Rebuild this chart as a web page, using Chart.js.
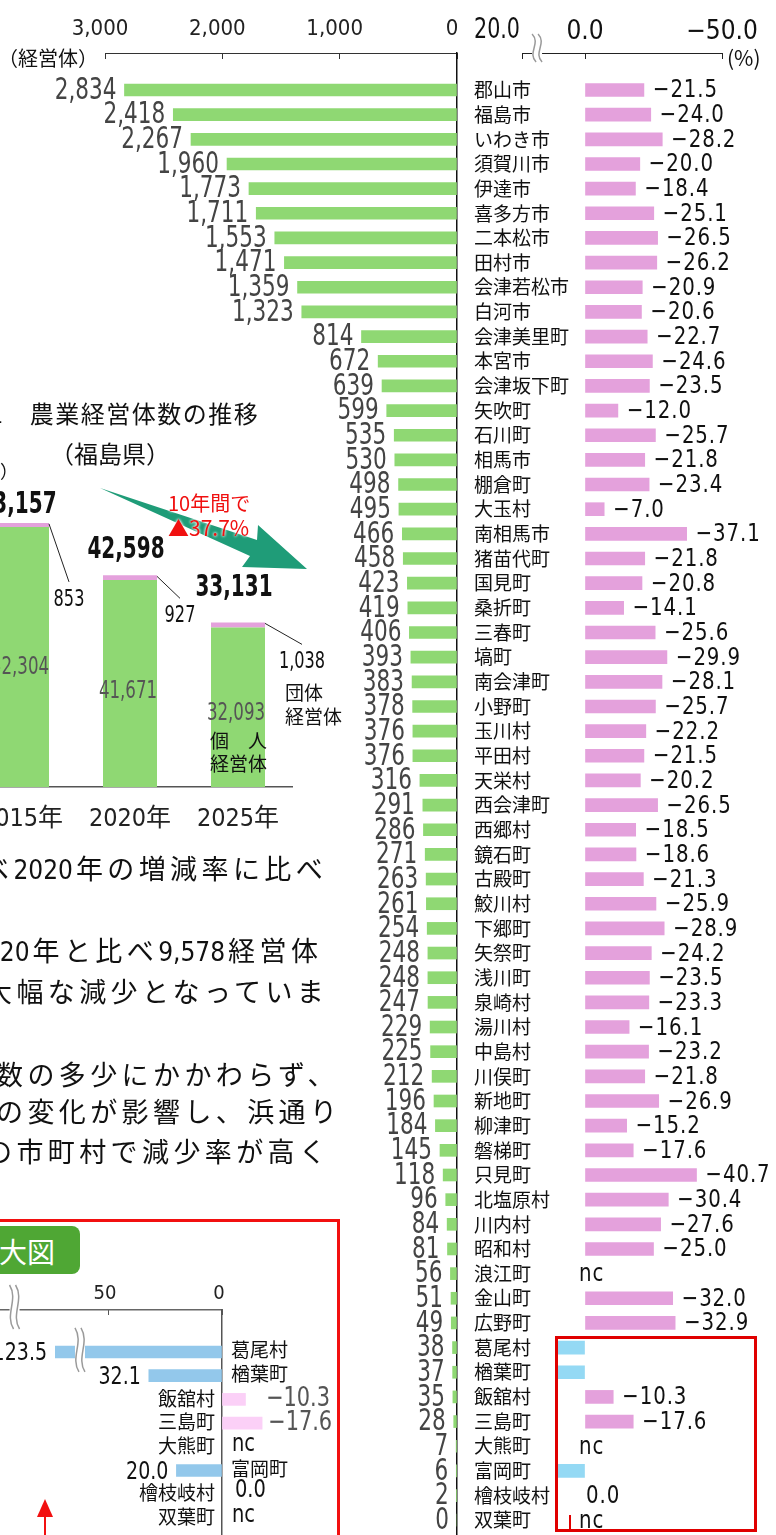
<!DOCTYPE html>
<html>
<head>
<meta charset="utf-8">
<script src="https://cdn.jsdelivr.net/npm/chart.js@4/dist/chart.umd.min.js"></script>
<style>
html, body { margin: 0; padding: 0; background: #fff; }
body { width: 776px; height: 1535px; position: relative; overflow: hidden; font-family: 'Noto Sans CJK JP', sans-serif; color: #111; }
canvas { position: absolute; z-index: 0; }
.ov { position: absolute; z-index: 2; }
.t { position: absolute; z-index: 2; white-space: nowrap; line-height: 1; transform: translateY(-50%); }
#body { position: absolute; z-index: 2; left: 0; top: 840px; width: 340px; height: 340px; overflow: hidden; }
#body .t { font-size: 27px; letter-spacing: 4.4px; }
#body .n { font-family: 'DejaVu Sans Condensed', 'DejaVu Sans', sans-serif; letter-spacing: 0; font-size: 26px; margin-right: 3px; }
</style>
</head>
<body>

<canvas id="cA" width="776" height="1535" style="left:0;top:0"></canvas>
<canvas id="cB" width="776" height="1535" style="left:0;top:0"></canvas>
<canvas id="cC" width="420" height="420" style="left:-60px;top:440px"></canvas>
<canvas id="cD" width="440" height="316" style="left:-100px;top:1219px"></canvas>

<div class="t" style="left:-2px;top:58px;font-size:20px;">（経営体）</div>
<div class="t" style="left:727px;top:57px;font-size:21px;">(%)</div>

<!-- inset: 図1 -->
<div class="t" style="left:-36px;top:413px;font-size:24px;letter-spacing:1.5px;">図1　農業経営体数の推移</div>
<div class="t" style="left:50px;top:453px;font-size:24px;">（福島県）</div>
<div class="t" style="left:-72px;top:470px;font-size:18px;">（経営体）</div>
<svg class="ov" style="left:0;top:0" width="340" height="600">
  <polygon points="100,488 257,540 258,525 307,569 242,567 250,556" fill="#1f9c78"/>
</svg>
<div class="t" style="left:168px;top:503px;font-size:20px;color:#f01010;text-shadow:0 0 3px #fff,0 0 3px #fff;">10年間で</div>
<div class="t" style="left:168px;top:527px;font-size:21px;color:#f01010;text-shadow:0 0 3px #fff,0 0 3px #fff;">▲37.7%</div>
<div class="t" style="left:285px;top:691px;font-size:19px;">団体</div>
<div class="t" style="left:285px;top:715px;font-size:19px;">経営体</div>
<div class="t" style="left:210px;top:739px;font-size:19px;">個　人</div>
<div class="t" style="left:210px;top:762px;font-size:19px;">経営体</div>

<div id="body">
  <div class="t" style="left:-18px;top:28px;">べ<span class="n">2020</span>年の増減率に比べ</div>
  <div class="t" style="left:-30px;top:110px;"><span class="n">2020</span>年と比べ<span class="n">9,578</span>経営体</div>
  <div class="t" style="left:-15px;top:150px;">大幅な減少となっていま</div>
  <div class="t" style="left:-4px;top:233px;">数の多少にかかわらず、</div>
  <div class="t" style="left:-4px;top:270px;">の変化が影響し、浜通り</div>
  <div class="t" style="left:-15px;top:310px;">の市町村で減少率が高く</div>
</div>

<!-- enlarged figure frame -->
<div class="ov" style="left:-10px;top:1219px;width:350px;height:400px;border:3px solid #f21010;box-sizing:border-box;"></div>
<div class="ov" style="left:-40px;top:1226px;width:120px;height:48px;background:#4fa734;border-radius:8px;"></div>
<div class="t" style="left:-29px;top:1251px;font-size:28px;color:#fff;">拡大図</div>
<svg class="ov" style="left:30px;top:1495px" width="30" height="40">
  <polygon points="15,4 7,22 23,22" fill="#f21010"/>
  <rect x="14" y="20" width="2" height="20" fill="#f21010"/>
</svg>

<!-- red box on main chart -->
<div class="ov" style="left:555px;top:1336px;width:202px;height:196px;border:3px solid #e00000;box-sizing:border-box;"></div>
<div class="ov" style="left:569px;top:1515px;width:2px;height:17px;background:#e00000;"></div>

<script>
// 市町村別 農業経営体数（2025年）と増減率（2020年比、%）
const cities = ['郡山市', '福島市', 'いわき市', '須賀川市', '伊達市', '喜多方市', '二本松市', '田村市', '会津若松市', '白河市',
  '会津美里町', '本宮市', '会津坂下町', '矢吹町', '石川町', '相馬市', '棚倉町', '大玉村', '南相馬市', '猪苗代町',
  '国見町', '桑折町', '三春町', '塙町', '南会津町', '小野町', '玉川村', '平田村', '天栄村', '西会津町',
  '西郷村', '鏡石町', '古殿町', '鮫川村', '下郷町', '矢祭町', '浅川町', '泉崎村', '湯川村', '中島村',
  '川俣町', '新地町', '柳津町', '磐梯町', '只見町', '北塩原村', '川内村', '昭和村', '浪江町', '金山町',
  '広野町', '葛尾村', '楢葉町', '飯舘村', '三島町', '大熊町', '富岡町', '檜枝岐村', '双葉町'];
const farms = [2834, 2418, 2267, 1960, 1773, 1711, 1553, 1471, 1359, 1323,
  814, 672, 639, 599, 535, 530, 498, 495, 466, 458,
  423, 419, 406, 393, 383, 378, 376, 376, 316, 291,
  286, 271, 263, 261, 254, 248, 248, 247, 229, 225,
  212, 196, 184, 145, 118, 96, 84, 81, 56, 51,
  49, 38, 37, 35, 28, 7, 6, 2, 0];
const rates = [-21.5, -24.0, -28.2, -20.0, -18.4, -25.1, -26.5, -26.2, -20.9, -20.6,
  -22.7, -24.6, -23.5, -12.0, -25.7, -21.8, -23.4, -7.0, -37.1, -21.8,
  -20.8, -14.1, -25.6, -29.9, -28.1, -25.7, -22.2, -21.5, -20.2, -26.5,
  -18.5, -18.6, -21.3, -25.9, -28.9, -24.2, -23.5, -23.3, -16.1, -23.2,
  -21.8, -26.9, -15.2, -17.6, -40.7, -30.4, -27.6, -25.0, null, -32.0,
  -32.9, 123.5, 32.1, -10.3, -17.6, null, 20.0, 0.0, null];
const farmTicks = [3000, 2000, 1000, 0];
const rateTicks = [23, 0, -50];   // 23 = 波線で省略した「20.0」の位置

// 拡大図（下位8市町村）
const zoomCities = cities.slice(51);
const zoomRates = rates.slice(51);
const zoomTicks = [50, 0];

// 図1 農業経営体数の推移（福島県）
const years = ['2015年', '2020年', '2025年'];
const individual = [52304, 41671, 32093];
const groups = [853, 927, 1038];
const totals = [53157, 42598, 33131];

const COND = "'DejaVu Sans Condensed', 'DejaVu Sans', 'Noto Sans CJK JP', sans-serif";
const JP = "'Noto Sans CJK JP', sans-serif";
const GREEN = '#8fd873';
const PINK = '#e4a1dc';
const BLUE = '#94d9f4';
const ZPINK = '#fbd0f7';
const ZBLUE = '#93c8eb';
const NONE = 'rgba(0,0,0,0)';

const fmtInt = v => v.toLocaleString('en-US');
const fmtRate = v => (v < 0 ? '−' : '') + Math.abs(v).toFixed(1);
const rateColor = (pos, neg) => c => {
  const v = c.raw ? c.raw.x : null;
  if (v === null || v === 0) return NONE;
  return v > 0 ? pos : neg;
};

// 縦長の数字に見せるため横方向だけ詰めて描く
function squeeze(ctx, text, x, y, align, sx) {
  ctx.save();
  ctx.translate(x, y);
  ctx.scale(sx, 1);
  ctx.textAlign = align;
  ctx.fillText(text, 0, 0);
  ctx.restore();
}

function drawBreak(ctx, cx, cy, h) {
  ctx.save();
  ctx.fillStyle = '#fff';
  ctx.fillRect(cx - 5, cy - h / 2, 10, h);
  ctx.strokeStyle = '#9a9a9a';
  ctx.lineWidth = 1.5;
  [-3, 3].forEach(o => {
    ctx.beginPath();
    ctx.moveTo(cx + o - 2, cy - h / 2);
    ctx.bezierCurveTo(cx + o + 7, cy - h / 6, cx + o - 7, cy + h / 6, cx + o + 2, cy + h / 2);
    ctx.stroke();
  });
  ctx.restore();
}

const leftLabels = {
  id: 'leftLabels',
  afterDatasetsDraw(chart) {
    const {ctx, scales: {x, y}} = chart;
    ctx.save();
    ctx.font = '30px ' + COND;
    ctx.fillStyle = '#444';
    ctx.textBaseline = 'middle';
    farms.forEach((v, i) => {
      squeeze(ctx, fmtInt(v), x.getPixelForValue(v) - 8, y.getPixelForValue(i) + 1, 'right', 0.8);
    });
    ctx.restore();
  }
};

const rightLabels = {
  id: 'rightLabels',
  afterDatasetsDraw(chart) {
    const {ctx, scales: {x, y}} = chart;
    const zero = x.getPixelForValue(0);
    ctx.save();
    ctx.textBaseline = 'middle';
    ctx.fillStyle = '#111';
    ctx.font = '25px ' + COND;
    ctx.letterSpacing = '1px';
    rates.forEach((v, i) => {
      const py = y.getPixelForValue(i) + 1;
      if (v === null) squeeze(ctx, 'nc', zero - 6, py, 'left', 0.88);
      else if (v === 0) squeeze(ctx, '0.0', zero + 1, py, 'left', 0.88);
      else if (v < 0) squeeze(ctx, fmtRate(v), x.getPixelForValue(v) + 9, py, 'left', 0.88);
    });
    // 省略した軸の端
    ctx.letterSpacing = '0px';
    ctx.font = '28px ' + COND;
    squeeze(ctx, '20.0', x.getPixelForValue(23) - 2, 31, 'right', 0.82);
    ctx.restore();
    drawBreak(ctx, x.getPixelForValue(17.5), 48, 28);
  }
};

const insetLabels = {
  id: 'insetLabels',
  afterDatasetsDraw(chart) {
    const ctx = chart.ctx;
    const lower = chart.getDatasetMeta(0).data;
    const upper = chart.getDatasetMeta(1).data;
    const totalDy = [18, 25, 34];
    const leadDx = [20, 23, 37];
    const leadDy = [59, 23, 22];
    ctx.save();
    ctx.textBaseline = 'middle';
    years.forEach((_, i) => {
      const top = upper[i];
      const right = top.x + top.width / 2;
      ctx.font = 'bold 30px ' + COND;
      ctx.fillStyle = '#111';
      squeeze(ctx, fmtInt(totals[i]), top.x - 4, top.y - totalDy[i], 'center', 0.74);

      const seg = lower[i];
      ctx.font = '25px ' + COND;
      ctx.fillStyle = '#555';
      squeeze(ctx, fmtInt(individual[i]), seg.x - 2, seg.base - 0.46 * (seg.base - seg.y), 'center', 0.74);

      const ex = right + leadDx[i], ey = top.y + leadDy[i];
      ctx.strokeStyle = '#222';
      ctx.lineWidth = 1;
      ctx.beginPath();
      ctx.moveTo(right, top.y + 1);
      ctx.lineTo(ex, ey);
      ctx.stroke();
      ctx.font = '23px ' + COND;
      ctx.fillStyle = '#111';
      squeeze(ctx, fmtInt(groups[i]), ex, ey + 18, 'center', 0.78);
    });
    ctx.restore();
  }
};

const zoomLabels = {
  id: 'zoomLabels',
  afterDatasetsDraw(chart) {
    const {ctx, scales: {x, y}, chartArea} = chart;
    const zero = x.getPixelForValue(0);
    const cut = chartArea.left + 115;
    ctx.save();
    ctx.textBaseline = 'middle';
    zoomRates.forEach((v, i) => {
      const py = y.getPixelForValue(i);
      ctx.font = '19px ' + JP;
      ctx.fillStyle = '#111';
      if (v !== null && v > 0) {
        ctx.textAlign = 'left';
        ctx.fillText(zoomCities[i], zero + 9, py - 2);
        ctx.font = '24px ' + COND;
        squeeze(ctx, v.toFixed(1), Math.max(x.getPixelForValue(v), cut) - 8, py + 2, 'right', 0.88);
      } else {
        ctx.textAlign = 'right';
        ctx.fillText(zoomCities[i], zero - 7, py - 1);
        ctx.font = '24px ' + COND;
        if (v === null) squeeze(ctx, 'nc', zero + 10, py - 2, 'left', 0.9);
        else if (v === 0) squeeze(ctx, '0.0', zero + 13, py - 3, 'left', 0.9);
        else {
          ctx.font = '27px ' + COND;
          ctx.fillStyle = '#555';
          squeeze(ctx, fmtRate(v), Math.max(x.getPixelForValue(v) + 6, zero + 44), py, 'left', 0.86);
        }
      }
    });
    ctx.restore();
    drawBreak(ctx, x.getPixelForValue(91), 88, 44);
    drawBreak(ctx, x.getPixelForValue(62.3), y.getPixelForValue(0) - 2, 44);
  }
};

Chart.defaults.animation = false;
Chart.defaults.responsive = false;
Chart.defaults.plugins.legend.display = false;
Chart.defaults.plugins.tooltip.enabled = false;

// 左：農業経営体数
new Chart(document.getElementById('cA'), {
  type: 'bar',
  data: {
    datasets: [{
      data: farms.map((v, i) => ({x: v, y: i})),
      backgroundColor: GREEN,
      barThickness: 12
    }]
  },
  options: {
    indexAxis: 'y',
    layout: {padding: {left: 105, top: 0, right: 0, bottom: 0}},
    scales: {
      x: {
        type: 'linear', position: 'top', reverse: true, min: 0, max: 3000, bounds: 'data',
        afterBuildTicks: s => { s.ticks = farmTicks.map(v => ({value: v})); },
        afterFit: s => { s.height = 53; },
        grid: {color: NONE, tickColor: '#333', tickLength: -6},
        border: {color: '#333', width: 1},
        ticks: {padding: 17, labelOffset: -5, color: '#222', font: {family: COND, size: 22}, callback: v => fmtInt(v)}
      },
      y: {
        type: 'linear', position: 'right', reverse: true, offset: false, min: -1.5, max: 58.6, bounds: 'data',
        afterBuildTicks: s => { s.ticks = cities.map((_, i) => ({value: i})); },
        afterFit: s => { s.width = 319; s.paddingTop = 0; s.paddingBottom = 0; },
        grid: {display: false, drawTicks: false},
        border: {color: '#111', width: 1.5},
        ticks: {autoSkip: false, padding: 17, color: '#111', font: {family: JP, size: 19}, callback: v => cities[v]}
      }
    }
  },
  plugins: [leftLabels]
});

// 右：増減率
new Chart(document.getElementById('cB'), {
  type: 'bar',
  data: {
    datasets: [{
      data: rates.map((v, i) => ({x: v, y: i})),
      backgroundColor: rateColor(BLUE, PINK),
      barThickness: 13,
      clip: {left: -35, top: false, right: false, bottom: false}
    }]
  },
  options: {
    indexAxis: 'y',
    layout: {padding: {left: 522, top: 0, right: 54, bottom: 0}},
    scales: {
      x: {
        type: 'linear', position: 'top', reverse: true, min: -50, max: 23, bounds: 'data',
        afterBuildTicks: s => { s.ticks = rateTicks.map(v => ({value: v})); },
        afterFit: s => { s.height = 53; },
        grid: {color: NONE, tickColor: '#222', tickLength: -6},
        border: {color: '#222', width: 1},
        ticks: {padding: 11, color: '#111', font: {family: COND, size: 26}, callback: v => (v === 23 ? '' : fmtRate(v))}
      },
      y: {type: 'linear', display: false, reverse: true, offset: false, min: -1.5, max: 58.6, bounds: 'data'}
    }
  },
  plugins: [rightLabels]
});

// 図1：推移
new Chart(document.getElementById('cC'), {
  type: 'bar',
  data: {
    labels: years,
    datasets: [
      {data: individual, backgroundColor: GREEN},
      {data: groups, backgroundColor: PINK}
    ]
  },
  options: {
    layout: {padding: {left: 28, right: 68, top: 30, bottom: 0}},
    datasets: {bar: {barPercentage: 0.5, categoryPercentage: 1}},
    scales: {
      x: {
        stacked: true,
        afterFit: s => { s.height = 73; },
        grid: {display: false, drawTicks: false},
        border: {color: '#555', width: 1.5},
        ticks: {padding: 17, color: '#222', font: {family: COND, size: 25}}
      },
      y: {stacked: true, display: false, min: 0, max: 63800}
    }
  },
  plugins: [insetLabels]
});

// 拡大図
new Chart(document.getElementById('cD'), {
  type: 'bar',
  data: {
    datasets: [{
      data: zoomRates.map((v, i) => ({x: v, y: i})),
      backgroundColor: rateColor(ZBLUE, ZPINK),
      barThickness: 12,
      clip: {left: -115, top: false, right: false, bottom: false}
    }]
  },
  options: {
    indexAxis: 'y',
    layout: {padding: {left: 40, right: 118, top: 0, bottom: 0}},
    scales: {
      x: {
        type: 'linear', position: 'top', reverse: true, min: 0, max: 123.7, bounds: 'data',
        afterBuildTicks: s => { s.ticks = zoomTicks.map(v => ({value: v})); },
        afterFit: s => { s.height = 91; },
        grid: {color: NONE, tickColor: '#555', tickLength: -5},
        border: {color: '#666', width: 1.5},
        ticks: {padding: 9, labelOffset: -3, color: '#222', font: {family: COND, size: 20}, callback: v => String(v)}
      },
      y: {
        type: 'linear', position: 'right', reverse: true, offset: false, min: -1.77, max: 7.72, bounds: 'data',
        afterFit: s => { s.width = 0; },
        grid: {display: false, drawTicks: false},
        border: {color: '#555', width: 1.5},
        ticks: {display: false}
      }
    }
  },
  plugins: [zoomLabels]
});
</script>
</body>
</html>
